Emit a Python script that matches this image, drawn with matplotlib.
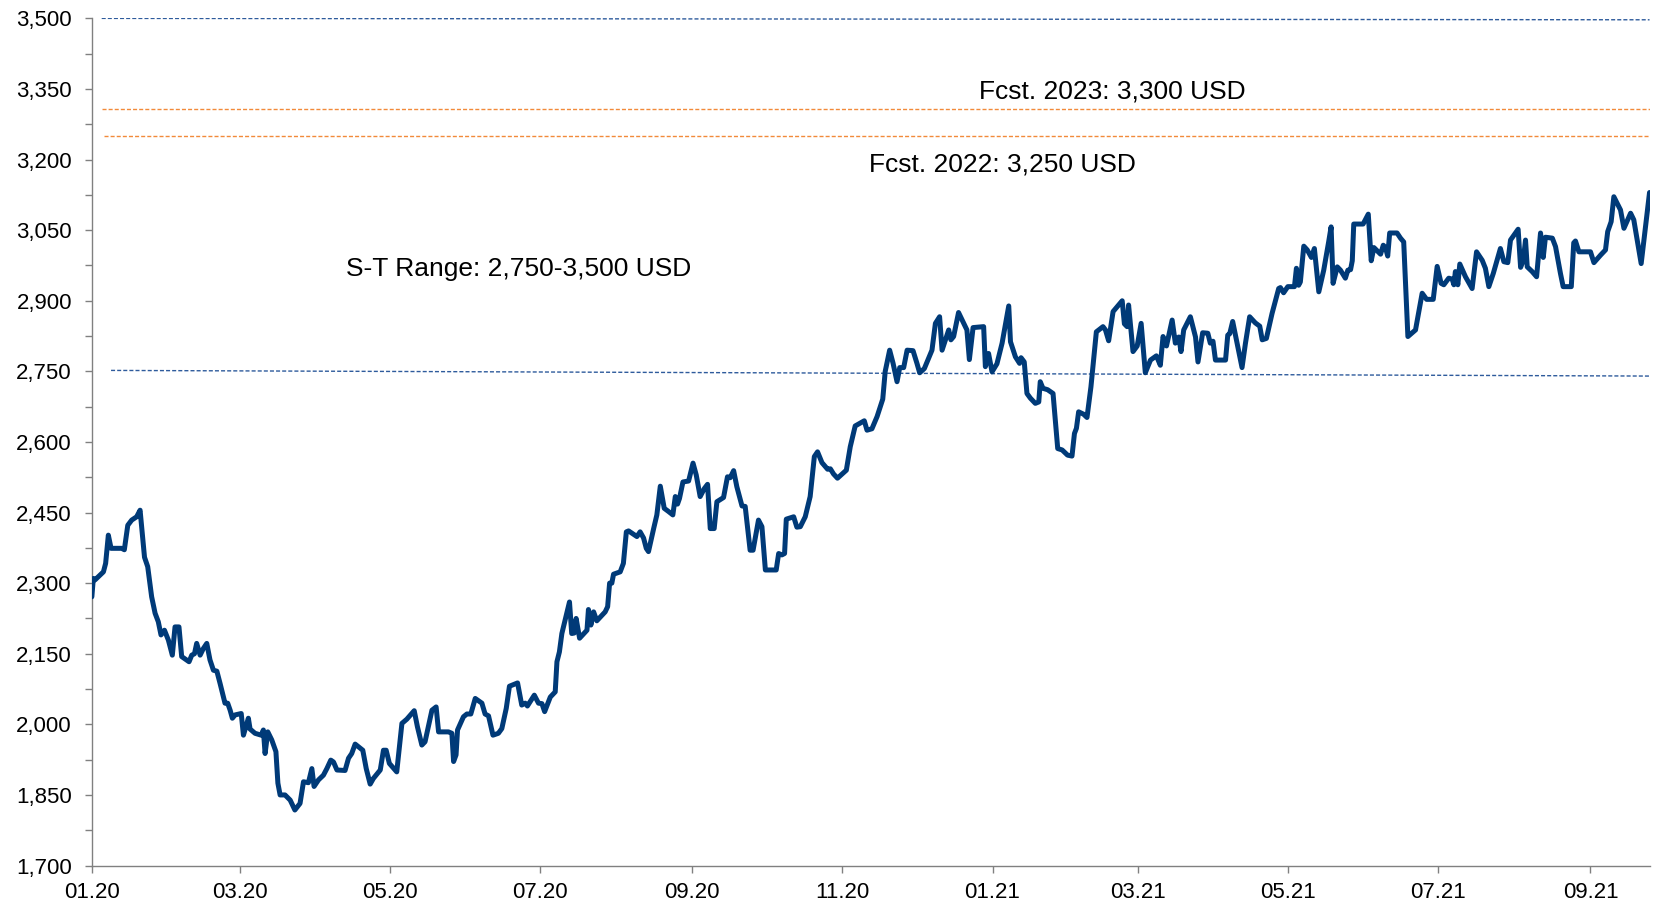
import numpy as np
import pandas as pd
import matplotlib
matplotlib.use('Agg')
import matplotlib.pyplot as plt
import matplotlib.dates as mdates
from matplotlib.ticker import FuncFormatter

plt.rcParams['font.family'] = ['Liberation Sans', 'DejaVu Sans']

# --- data ---
START = pd.Timestamp('2020-01-01')

# days since 01.01.2020
days = [
    0, 0.6, 1.3, 4.7, 5.6, 6.7, 7.8, 12.1, 13.2, 14.6, 16.2, 18.2, 19.6, 20.5, 21.4, 22.7,
    24.3, 25.7, 27.0, 28.1, 29.5, 31.1, 32.7, 33.8, 35.4, 36.5, 39.5, 40.6, 41.7, 42.6, 44.0,
    45.3, 46.7, 48.0, 49.4, 50.8, 52.1, 54.1, 55.2, 56.2, 57.1, 58.2, 60.7, 61.6, 63.6, 64.3,
    66.3, 68.8, 69.7, 70.4, 71.5, 73.1, 74.8, 75.6, 76.5, 78.5, 80.6, 82.5, 84.6, 86.0, 88.0,
    89.4, 90.3, 92.1, 94.1, 95.5, 97.1, 98.2, 99.6, 102.9, 104.3, 105.6, 107.0, 110.1, 111.5,
    113.1, 114.4, 117.2, 118.5, 119.6, 120.9, 123.9, 126.0, 128.0, 131.0, 132.3, 134.1, 135.4,
    138.2, 139.9, 140.9, 144.9, 146.3, 147.0, 148.0, 148.6, 151.0, 152.4, 154.0, 155.8, 158.5,
    159.8, 161.2, 163.0, 165.2, 166.6, 168.4, 169.7, 173.0, 174.7, 176.1, 177.0, 179.8, 181.5,
    182.9, 184.0, 186.3, 188.3, 189.0, 190.0, 191.0, 194.1, 195.0, 196.0, 196.8, 198.2, 201.2,
    201.8, 202.8, 203.9, 205.2, 208.6, 209.6, 210.4, 211.3, 212.0, 214.7, 216.0, 217.2, 218.1,
    219.5, 221.5, 222.8, 224.2, 225.3, 226.2, 228.3, 229.6, 231.0, 232.6, 234.4, 236.1, 237.1,
    238.0, 238.8, 240.2, 242.5, 244.3, 245.6, 247.2, 248.9, 250.2, 251.3, 252.9, 254.0, 256.7,
    258.3, 259.4, 260.8, 262.1, 264.2, 265.5, 267.5, 268.7, 270.9, 272.3, 273.7, 278.1, 279.1,
    280.4, 281.5, 282.2, 285.2, 286.5, 287.9, 289.9, 291.9, 293.6, 294.9, 296.7, 299.0, 300.1,
    301.4, 303.0, 306.6, 308.2, 310.2, 313.9, 315.0, 317.0, 319.1, 320.4, 321.4, 322.4, 324.2,
    325.6, 327.2, 328.3, 329.9, 331.3, 333.7, 335.3, 336.4, 338.3, 341.4, 342.8, 344.5, 345.5,
    348.2, 349.1, 350.2, 352.2, 354.3, 355.6, 356.6, 358.1, 362.4, 363.1, 364.4, 365.8, 367.8,
    369.9, 372.6, 373.3, 375.3, 377.0, 377.6, 378.9, 380.0, 381.4, 383.4, 384.8, 385.4, 386.5,
    388.4, 390.6, 392.5, 394.3, 396.5, 398.3, 399.3, 400.1, 401.0, 403.0, 404.4, 406.0, 408.2,
    410.9, 411.9, 413.2, 415.0, 416.9, 418.7, 419.6, 420.7, 421.3, 423.1, 424.8, 426.4, 428.1,
    430.2, 432.6, 434.2, 435.3, 436.7, 439.0, 440.3, 441.7, 442.6, 443.7, 446.4, 448.5, 449.5,
    451.4, 453.5, 454.5, 455.6, 456.6, 460.7, 461.6, 462.4, 463.6, 465.4, 467.4, 468.8, 470.5,
    472.8, 474.6, 475.6, 477.3, 479.6, 482.3, 483.0, 484.3, 486.0, 488.7, 489.5, 490.4, 491.1,
    492.5, 493.9, 495.6, 496.8, 498.6, 500.6, 502.6, 503.6, 504.4, 506.1, 507.4, 509.4, 510.4,
    511.5, 512.2, 512.8, 516.6, 518.7, 519.9, 521.0, 523.7, 524.8, 525.7, 526.6, 527.4, 530.4,
    531.8, 533.1, 534.8, 537.9, 540.6, 542.4, 545.1, 546.7, 548.3, 549.4, 551.4, 552.8, 553.5,
    554.1, 555.1, 555.9, 558.2, 560.9, 562.7, 565.0, 566.3, 567.7, 569.5, 572.4, 573.8, 575.4,
    576.5, 578.5, 579.6, 580.6, 581.7, 582.6, 583.3, 585.3, 587.1, 588.7, 589.8, 590.7, 593.5,
    594.8, 596.8, 597.9, 601.2, 602.2, 602.9, 604.3, 609.0, 610.4, 613.1, 615.1, 616.0, 617.4,
    618.5, 621.2, 622.6, 625.3, 626.6, 629.6, 633.0,
]

# price, USD
price = [
    2271, 2310, 2307, 2324, 2342, 2402, 2374, 2374, 2371, 2423, 2434, 2441, 2455, 2406, 2355, 2335,
    2271, 2236, 2218, 2190, 2200, 2179, 2147, 2207, 2207, 2144, 2133, 2147, 2150, 2172, 2147,
    2161, 2172, 2137, 2115, 2113, 2087, 2045, 2045, 2030, 2013, 2020, 2023, 1977, 2013, 1990,
    1981, 1977, 1988, 1938, 1984, 1967, 1942, 1875, 1850, 1850, 1839, 1818, 1832, 1878, 1876,
    1906, 1868, 1882, 1892, 1906, 1924, 1920, 1903, 1902, 1928, 1938, 1958, 1945, 1906,
    1873, 1885, 1903, 1945, 1945, 1917, 1899, 2002, 2011, 2029, 1995, 1956, 1963,
    2030, 2037, 1984, 1984, 1981, 1921, 1935, 1988, 2016, 2022, 2022, 2055, 2045,
    2022, 2018, 1977, 1981, 1991, 2034, 2081, 2088, 2041, 2045, 2039, 2062, 2045,
    2044, 2027, 2058, 2069, 2133, 2154, 2193, 2260, 2193, 2194, 2225, 2183, 2200,
    2244, 2211, 2239, 2220, 2239, 2250, 2300, 2300, 2319, 2324, 2342, 2409, 2411,
    2406, 2399, 2409, 2396, 2374, 2367, 2416, 2445, 2506, 2459, 2452, 2445, 2484,
    2468, 2480, 2515, 2517, 2555, 2530, 2484, 2501, 2510, 2416, 2416, 2473, 2482,
    2526, 2524, 2539, 2505, 2464, 2463, 2370, 2370, 2434, 2420, 2328, 2328, 2363,
    2360, 2363, 2436, 2441, 2419, 2420, 2441, 2484, 2569, 2579, 2556, 2542, 2543,
    2532, 2523, 2540, 2590, 2634, 2645, 2625, 2628, 2654, 2675, 2691, 2750, 2795,
    2767, 2728, 2758, 2758, 2795, 2794, 2767, 2747, 2756, 2795, 2852, 2866, 2795,
    2838, 2817, 2824, 2875, 2852, 2838, 2775, 2843, 2845, 2760, 2788, 2749, 2766,
    2810, 2889, 2813, 2781, 2767, 2779, 2770, 2703, 2693, 2682, 2685, 2728, 2714,
    2711, 2703, 2586, 2583, 2572, 2570, 2618, 2629, 2664, 2659, 2652, 2717, 2834,
    2845, 2838, 2815, 2877, 2889, 2900, 2851, 2845, 2891, 2792, 2804, 2852, 2747,
    2774, 2783, 2763, 2824, 2804, 2859, 2810, 2823, 2792, 2838, 2866, 2823, 2770,
    2832, 2831, 2810, 2814, 2774, 2774, 2827, 2830, 2856, 2810, 2758, 2810, 2866,
    2853, 2846, 2817, 2820, 2873, 2926, 2928, 2917, 2930, 2930, 2969, 2933, 2940,
    3016, 3008, 2992, 3011, 2919, 2965, 3025, 3057, 2937, 2972, 2965, 2948, 2965,
    2966, 2985, 3063, 3063, 3084, 2985, 3013, 2999, 3018, 3013, 2995, 3044, 3044,
    3033, 3025, 2824, 2838, 2916, 2903, 2903, 2973, 2937, 2934, 2948, 2946, 2934,
    2962, 2934, 2978, 2951, 2926, 3004, 2986, 2969, 2930, 2958, 3011, 2983, 2981,
    3029, 3044, 3052, 2971, 2986, 3029, 2972, 2962, 2951, 3044, 2992, 3035, 3033,
    3015, 2958, 2930, 2930, 3023, 3027, 3004, 3004, 2981, 2997, 3008, 3047, 3068,
    3121, 3093, 3054, 3086, 3072, 2979, 3130,
]

# short-term range (drawn as in the source, slightly tilted at the bottom)
range_high = [3500, 3497]
range_low = [2752, 2740]
fcst_2023 = 3308
fcst_2022 = 3250

label_2023 = 'Fcst. 2023: 3,300 USD'
label_2022 = 'Fcst. 2022: 3,250 USD'
label_range = 'S-T Range: 2,750-3,500 USD'

y_ticks = [1700, 1850, 2000, 2150, 2300, 2450, 2600, 2750, 2900, 3050, 3200, 3350, 3500]

LINE = '#003A78'
BLUE_DASH = '#2E5B9C'
ORANGE_DASH = '#F28A3A'
AXIS = '#808080'


def d(n):
    return START + pd.Timedelta(days=n)


dates = (START + pd.to_timedelta(days, unit='D')).to_numpy()
end = dates[-1]

fig = plt.figure(figsize=(16.55, 9.05), dpi=100)
ax = fig.add_axes([0.0555, 0.0436, 0.9412, 0.9361])

dash = (0, (2.9, 1.5))
ax.plot([d(4), end], range_high, color=BLUE_DASH, lw=1.0, linestyle=dash)
ax.plot([d(7.8), end], range_low, color=BLUE_DASH, lw=1.0, linestyle=dash)
ax.plot([d(4), end], [fcst_2023, fcst_2023], color=ORANGE_DASH, lw=1.0, linestyle=dash)
ax.plot([d(5), end], [fcst_2022, fcst_2022], color=ORANGE_DASH, lw=1.0, linestyle=dash)

ax.plot(dates, price, color=LINE, lw=3.6, solid_joinstyle='round', solid_capstyle='round', zorder=3)

ax.text(d(360.4), 3330, label_2023, fontsize=19, va='baseline', ha='left')
ax.text(d(316), 3174, label_2022, fontsize=19, va='baseline', ha='left')
ax.text(d(103.3), 2952, label_range, fontsize=19, va='baseline', ha='left')

ax.set_xlim(START, end)
ax.set_ylim(1700, 3500)

ax.set_yticks(y_ticks)
ax.set_yticks([v + 75 for v in y_ticks[:-1]], minor=True)
ax.yaxis.set_major_formatter(FuncFormatter(lambda v, p: f'{v:,.0f}'))

ax.xaxis.set_major_locator(mdates.MonthLocator(bymonth=[1, 3, 5, 7, 9, 11]))
ax.xaxis.set_major_formatter(mdates.DateFormatter('%m.%y'))

for s in ['top', 'right']:
    ax.spines[s].set_visible(False)
for s in ['left', 'bottom']:
    ax.spines[s].set_color(AXIS)
    ax.spines[s].set_linewidth(1.0)

ax.tick_params(axis='y', which='both', direction='out', length=4.8, width=1.0,
               color=AXIS, labelcolor='black', labelsize=16, pad=9.5)
ax.tick_params(axis='x', which='major', direction='out', length=5.0, width=1.0,
               color=AXIS, labelcolor='black', labelsize=16, pad=7)

fig.savefig('out.png', dpi=100)
